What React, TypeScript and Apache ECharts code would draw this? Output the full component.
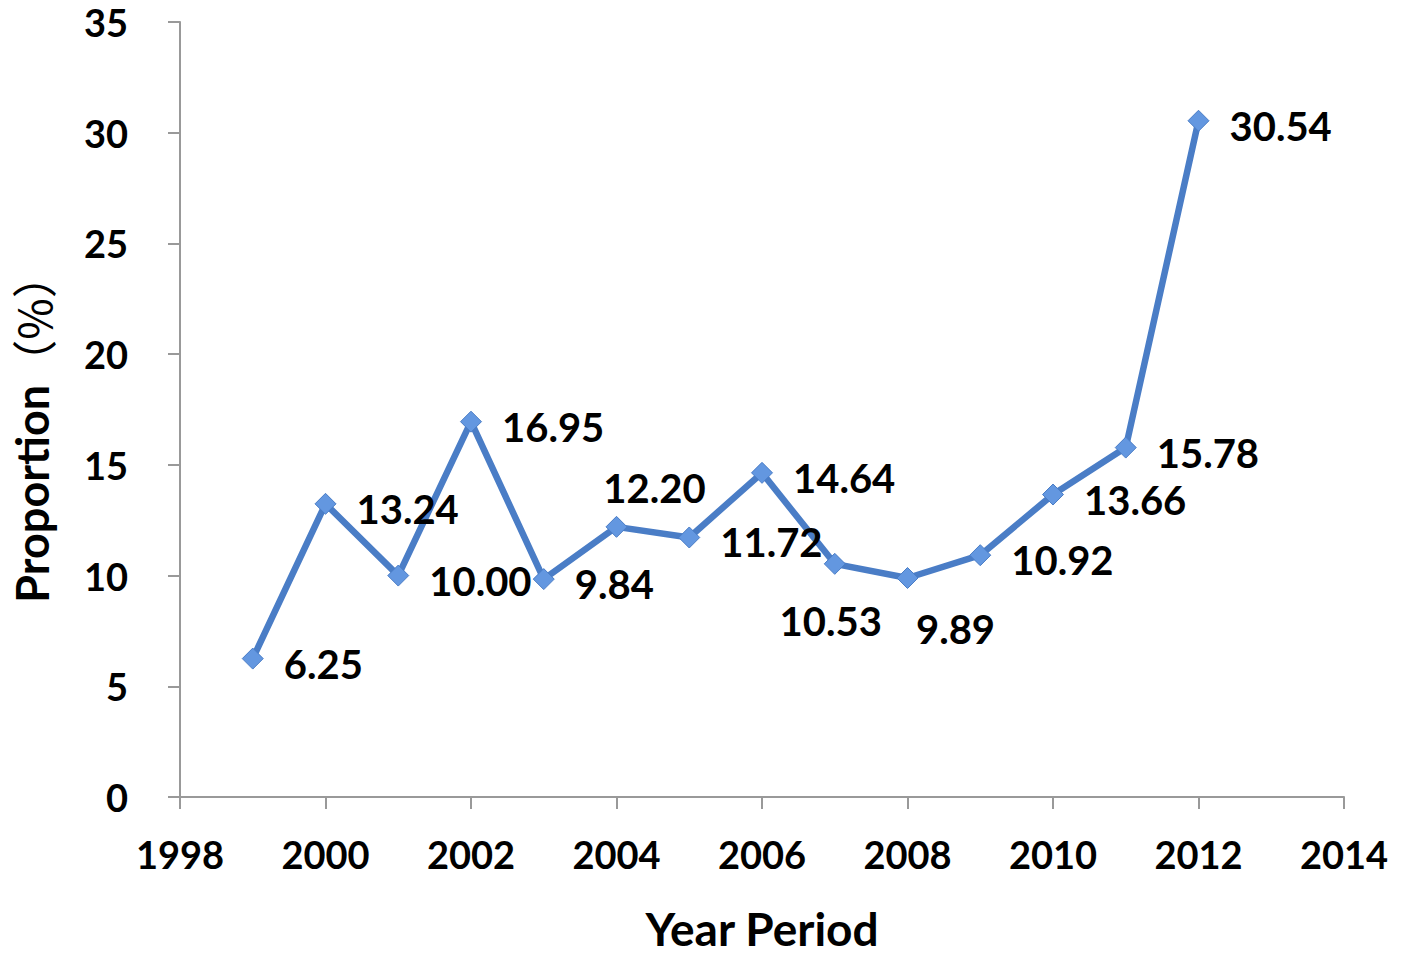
import React, { useEffect, useRef } from "react";
import * as echarts from "echarts";

// Yearly proportion (%) series
const years = [1999, 2000, 2001, 2002, 2003, 2004, 2005, 2006, 2007, 2008, 2009, 2010, 2011, 2012];
const proportions = [6.25, 13.24, 10.0, 16.95, 9.84, 12.2, 11.72, 14.64, 10.53, 9.89, 10.92, 13.66, 15.78, 30.54];
// Where each value label sits relative to its point
const labelPlacement = ["right", "right", "right", "right", "right", "top", "right", "right", "bottom", "bottom", "right", "right", "right", "right"];

const FONT = "Lato";

export default function App() {
  const ref = useRef<HTMLDivElement>(null);

  useEffect(() => {
    if (!ref.current) return;
    const chart = echarts.init(ref.current, undefined, { renderer: "svg" });

    const data = years.map((y, i) => {
      const pos = labelPlacement[i];
      let label: any = { position: "right", distance: 20, offset: [0, 5] };
      if (pos === "top") label = { position: "top", distance: 8, offset: [38, 0] };
      if (pos === "bottom") {
        label = i === 8
          ? { position: "bottom", distance: 26, offset: [-4, 0] }
          : { position: "bottom", distance: 20, offset: [48, 0] };
      }
      return { value: [y, proportions[i]], label };
    });

    const axisText = { color: "#000", fontFamily: FONT, fontWeight: "bold" as const, fontSize: 38 };

    chart.setOption({
      animation: false,
      backgroundColor: "#fff",
      grid: { left: 180, top: 22, right: 59, bottom: 152, containLabel: false },
      graphic: [
        {
          type: "text",
          x: 32,
          y: 428,
          rotation: Math.PI / 2,
          style: {
            text: "{a|Proportion}{b|（%）}",
            fill: "#000",
            textAlign: "center",
            textVerticalAlign: "middle",
            rich: {
              a: { fontFamily: FONT, fontWeight: "bold", fontSize: 45, fill: "#000" },
              b: { fontFamily: "Noto Sans CJK SC", fontWeight: "normal", fontSize: 45, fill: "#000" },
            },
          },
        },
      ],
      xAxis: {
        type: "value",
        min: 1998,
        max: 2014,
        interval: 2,
        name: "Year Period",
        nameLocation: "middle",
        nameGap: 108,
        nameTextStyle: { ...axisText, fontSize: 46 },
        axisLine: { show: true, lineStyle: { color: "#999", width: 2 } },
        axisTick: { show: true, inside: false, length: 12, lineStyle: { color: "#999", width: 2 } },
        axisLabel: { ...axisText, margin: 38, formatter: (v: number) => String(v) },
        splitLine: { show: false },
      },
      yAxis: {
        type: "value",
        min: 0,
        max: 35,
        interval: 5,
        axisLine: { show: true, lineStyle: { color: "#999", width: 2 } },
        axisTick: { show: true, inside: false, length: 12, lineStyle: { color: "#999", width: 2 } },
        axisLabel: { ...axisText, margin: 52 },
        splitLine: { show: false },
      },
      series: [
        {
          type: "line",
          data,
          symbol: "diamond",
          symbolSize: 21,
          lineStyle: { color: "#4a7dc6", width: 6.5 },
          itemStyle: { color: "#6397e0", borderColor: "#4a7dc6", borderWidth: 1 },
          label: {
            show: true,
            color: "#000",
            fontFamily: FONT,
            fontWeight: "bold",
            fontSize: 40,
            formatter: (p: any) => p.value[1].toFixed(2),
          },
        },
      ],
    });

    return () => chart.dispose();
  }, []);

  return (
    <div
      ref={ref}
      style={{ position: "absolute", left: 0, top: 0, width: 1403, height: 956, background: "#fff" }}
    />
  );
}
